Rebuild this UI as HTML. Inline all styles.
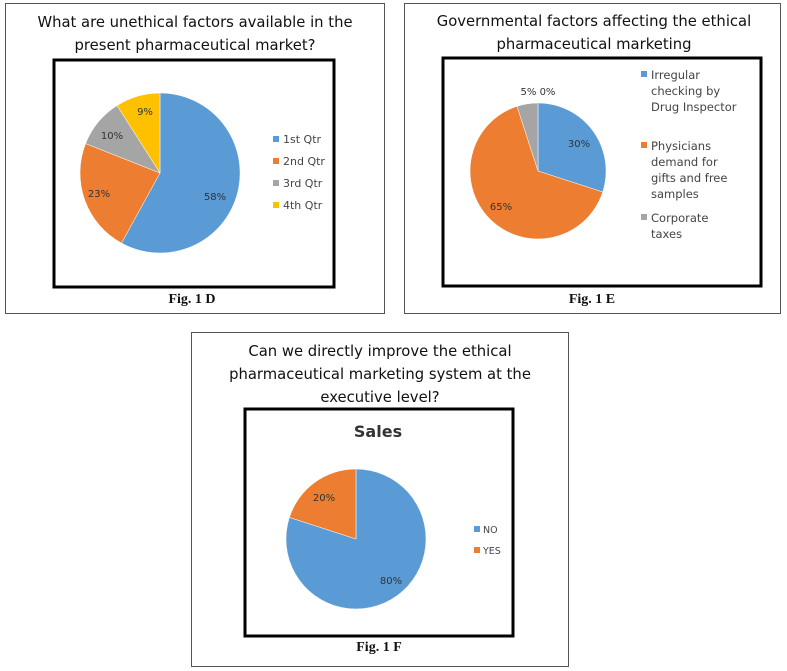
<!DOCTYPE html>
<html><head><meta charset="utf-8"><style>
html,body{margin:0;padding:0;background:#fff;}
svg{display:block;}
.t{font-family:"DejaVu Sans","Liberation Sans",sans-serif;font-size:14.8px;fill:#111;text-anchor:middle;}
.l{font-family:"DejaVu Sans","Liberation Sans",sans-serif;font-size:11px;fill:#444;}
.p{font-family:"DejaVu Sans","Liberation Sans",sans-serif;font-size:10px;fill:#333;text-anchor:middle;}
.f{font-family:"Liberation Serif",serif;font-weight:bold;font-size:14px;fill:#111;text-anchor:middle;}
</style></head><body>
<svg width="787" height="671" viewBox="0 0 787 671" xmlns="http://www.w3.org/2000/svg">
<rect x="0" y="0" width="787" height="671" fill="#fff"/>
<!-- Panel D -->
<rect x="5.5" y="3.5" width="379" height="310" fill="none" stroke="#555" stroke-width="1"/>
<text class="t" x="195" y="27">What are unethical factors available in the</text>
<text class="t" x="195" y="50">present pharmaceutical market?</text>
<rect x="54" y="60" width="280" height="227" fill="#fff" stroke="#000" stroke-width="3"/>
<path d="M160,173 L160,93 A80,80 0 1,1 121.5,243.1 Z" fill="#5b9bd5" stroke="#fff" stroke-width="0.5"/>
<path d="M160,173 L121.5,243.1 A80,80 0 0,1 85.6,143.6 Z" fill="#ed7d31" stroke="#fff" stroke-width="0.5"/>
<path d="M160,173 L85.6,143.6 A80,80 0 0,1 117.1,105.5 Z" fill="#a5a5a5" stroke="#fff" stroke-width="0.5"/>
<path d="M160,173 L117.1,105.5 A80,80 0 0,1 160,93 Z" fill="#ffc000" stroke="#fff" stroke-width="0.5"/>
<text class="p" x="215" y="200">58%</text>
<text class="p" x="99" y="197">23%</text>
<text class="p" x="112" y="139">10%</text>
<text class="p" x="145" y="115">9%</text>
<rect x="273" y="136" width="6" height="6" fill="#5b9bd5"/><text class="l" x="283" y="143">1st Qtr</text>
<rect x="273" y="158" width="6" height="6" fill="#ed7d31"/><text class="l" x="283" y="165">2nd Qtr</text>
<rect x="273" y="180" width="6" height="6" fill="#a5a5a5"/><text class="l" x="283" y="187">3rd Qtr</text>
<rect x="273" y="202" width="6" height="6" fill="#ffc000"/><text class="l" x="283" y="209">4th Qtr</text>
<text class="f" x="192" y="303">Fig. 1 D</text>
<!-- Panel E -->
<rect x="404.5" y="3.5" width="376" height="310" fill="none" stroke="#555" stroke-width="1"/>
<text class="t" x="594" y="26">Governmental factors affecting the ethical</text>
<text class="t" x="594" y="49">pharmaceutical marketing</text>
<rect x="443" y="58" width="318" height="228" fill="#fff" stroke="#000" stroke-width="3"/>
<path d="M538,171 L538,103 A68,68 0 0,1 602.7,192 Z" fill="#5b9bd5" stroke="#fff" stroke-width="0.5"/>
<path d="M538,171 L602.7,192 A68,68 0 1,1 517,106.3 Z" fill="#ed7d31" stroke="#fff" stroke-width="0.5"/>
<path d="M538,171 L517,106.3 A68,68 0 0,1 538,103 Z" fill="#a5a5a5" stroke="#fff" stroke-width="0.5"/>
<text class="p" x="579" y="147">30%</text>
<text class="p" x="501" y="210">65%</text>
<text class="p" x="538" y="95">5% 0%</text>
<rect x="641" y="71" width="6" height="6" fill="#5b9bd5"/>
<text class="l" style="font-size:11.5px" x="651" y="79">Irregular</text>
<text class="l" style="font-size:11.5px" x="651" y="95">checking by</text>
<text class="l" style="font-size:11.5px" x="651" y="111">Drug Inspector</text>
<rect x="641" y="142" width="6" height="6" fill="#ed7d31"/>
<text class="l" style="font-size:11.5px" x="651" y="150">Physicians</text>
<text class="l" style="font-size:11.5px" x="651" y="166">demand for</text>
<text class="l" style="font-size:11.5px" x="651" y="182">gifts and free</text>
<text class="l" style="font-size:11.5px" x="651" y="198">samples</text>
<rect x="641" y="214" width="6" height="6" fill="#a5a5a5"/>
<text class="l" style="font-size:11.5px" x="651" y="222">Corporate</text>
<text class="l" style="font-size:11.5px" x="651" y="238">taxes</text>
<text class="f" x="592" y="303">Fig. 1 E</text>
<!-- Panel F -->
<rect x="191.5" y="332.5" width="377" height="334" fill="none" stroke="#555" stroke-width="1"/>
<text class="t" x="380" y="356">Can we directly improve the ethical</text>
<text class="t" x="380" y="379">pharmaceutical marketing system at the</text>
<text class="t" x="380" y="402">executive level?</text>
<rect x="245" y="409" width="268" height="227" fill="#fff" stroke="#000" stroke-width="3"/>
<text x="378" y="437" style="font-family:'DejaVu Sans','Liberation Sans',sans-serif;font-weight:bold;font-size:16px;fill:#333;text-anchor:middle">Sales</text>
<path d="M356,539 L356,469 A70,70 0 1,1 289.4,517.4 Z" fill="#5b9bd5" stroke="#fff" stroke-width="0.5"/>
<path d="M356,539 L289.4,517.4 A70,70 0 0,1 356,469 Z" fill="#ed7d31" stroke="#fff" stroke-width="0.5"/>
<text class="p" x="324" y="501">20%</text>
<text class="p" x="391" y="584">80%</text>
<rect x="474" y="526" width="6" height="6" fill="#5b9bd5"/><text class="l" style="font-size:9.5px" x="483" y="533">NO</text>
<rect x="474" y="547" width="6" height="6" fill="#ed7d31"/><text class="l" style="font-size:9.5px" x="483" y="554">YES</text>
<text class="f" x="379" y="651">Fig. 1 F</text>
</svg>
</body></html>
